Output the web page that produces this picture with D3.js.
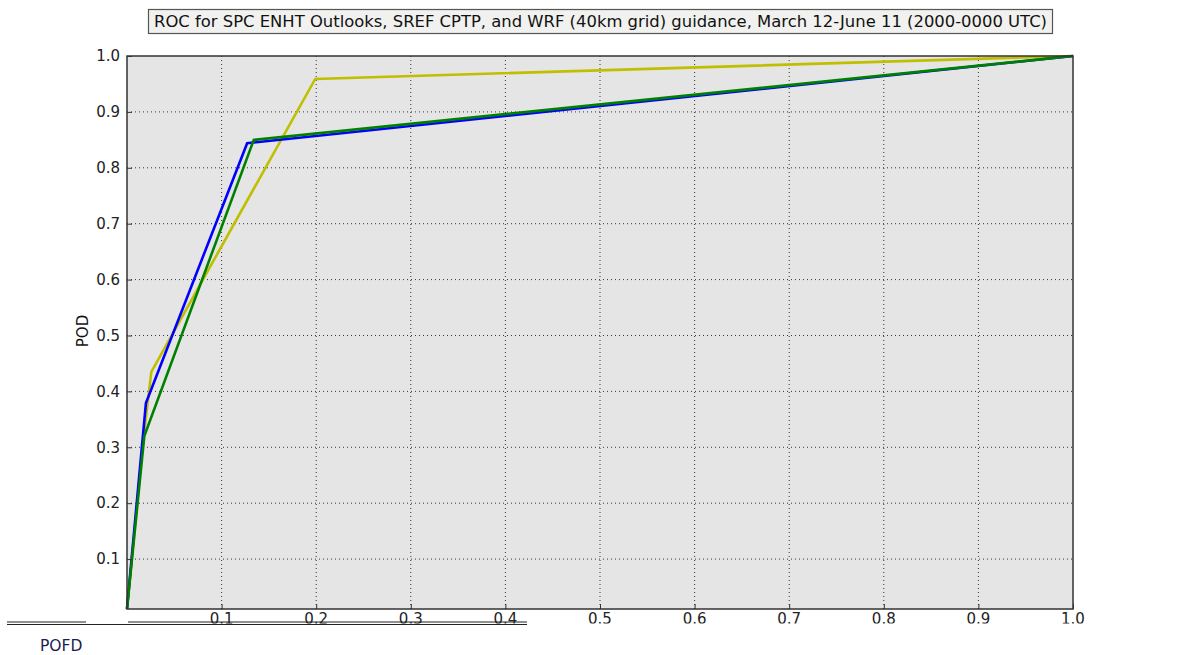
<!DOCTYPE html>
<html><head><meta charset="utf-8">
<script src="https://cdn.jsdelivr.net/npm/d3@7"></script>
<style>body{margin:0;background:#fff;} svg{display:block;font-family:"DejaVu Sans",sans-serif;}</style>
</head><body>
<script>
const titleText = "ROC for SPC ENHT Outlooks, SREF CPTP, and WRF (40km grid) guidance, March 12-June 11 (2000-0000 UTC)";
const xTicks = [0.1,0.2,0.3,0.4,0.5,0.6,0.7,0.8,0.9,1.0];
const yTicks = [0.1,0.2,0.3,0.4,0.5,0.6,0.7,0.8,0.9,1.0];
const blueX = [0, 0.020, 0.127, 1.0];
const blueY = [0.011, 0.379, 0.844, 1.0];
const greenX = [0, 0.0183, 0.134, 1.0];
const greenY = [0.011, 0.320, 0.850, 1.0];
const yellowX = [0, 0.017, 0.0257, 0.199, 1.0];
const yellowY = [0.011, 0.31, 0.435, 0.959, 1.0];
const seriesColors = ["#bfbf00", "#0000ff", "#008000"];

const W=1186,H=655;
const svg=d3.select("body").append("svg").attr("width",W).attr("height",H);
const L=127,R=1073,T=56,B=609;
const x=d3.scaleLinear().domain([0,1]).range([L,R]);
const y=d3.scaleLinear().domain([0.0107,1]).range([B,T]);

// title box
svg.append("rect").attr("x",148.5).attr("y",9.5).attr("width",904).attr("height",24)
 .attr("fill","#f1f1ef").attr("stroke","#555").attr("stroke-width",1.2);
svg.append("text").attr("x",600.5).attr("y",27).attr("text-anchor","middle")
 .attr("font-size",16.4).attr("fill","#111").attr("textLength",893).attr("lengthAdjust","spacingAndGlyphs")
 .text(titleText);

svg.append("rect").attr("x",L).attr("y",T).attr("width",R-L).attr("height",B-T).attr("fill","#e5e5e5");

// grid
const g=svg.append("g");
g.selectAll("line.gx").data(xTicks.filter(d=>d<1)).join("line")
 .attr("x1",d=>x(d)).attr("x2",d=>x(d)).attr("y1",T).attr("y2",B)
 .attr("stroke","#333").attr("stroke-width",1).attr("stroke-dasharray","1,3");
g.selectAll("line.gy").data(yTicks.filter(d=>d<1)).join("line")
 .attr("y1",d=>y(d)).attr("y2",d=>y(d)).attr("x1",L).attr("x2",R)
 .attr("stroke","#333").attr("stroke-width",1).attr("stroke-dasharray","1,3");

// lines
const line=d3.line().x(d=>x(d[0])).y(d=>y(d[1]));
const series=[d3.zip(yellowX,yellowY), d3.zip(blueX,blueY), d3.zip(greenX,greenY)];
series.forEach((s,i)=>{
 svg.append("path").datum(s).attr("d",line).attr("fill","none")
  .attr("stroke",seriesColors[i]).attr("stroke-width",2.6).attr("stroke-linejoin","miter");
});

// frame
svg.append("rect").attr("x",L).attr("y",T).attr("width",R-L).attr("height",B-T)
 .attr("fill","none").attr("stroke","#333").attr("stroke-width",1.5);

// axes
const yAxis=d3.axisLeft(y).tickValues(yTicks).tickFormat(d3.format(".1f")).tickSizeInner(-5).tickSizeOuter(0).tickPadding(7);
const ya=svg.append("g").attr("transform",`translate(${L},0)`).call(yAxis);
ya.select(".domain").remove();
ya.selectAll("text").attr("font-size",15).attr("fill","#222").attr("font-family","DejaVu Sans");
ya.selectAll("line").attr("stroke","#333");

// clip for x tick labels (lower part hidden in reference)
svg.append("clipPath").attr("id","xclip").append("rect").attr("x",0).attr("y",600).attr("width",W).attr("height",23.5);
const xAxis=d3.axisBottom(x).tickValues(xTicks).tickFormat(d3.format(".1f")).tickSizeInner(-5).tickSizeOuter(0).tickPadding(4);
const xa=svg.append("g").attr("transform",`translate(0,${B})`).call(xAxis);
xa.select(".domain").remove();
xa.selectAll("line").attr("stroke","#333");
const labelsG=svg.append("g").attr("clip-path","url(#xclip)");
xa.selectAll(".tick").each(function(d){
 const t=d3.select(this).select("text");
 labelsG.append("text").attr("x",x(d)).attr("y",624).attr("text-anchor","middle")
  .attr("font-size",15).attr("fill","#222").text(t.text());
 t.remove();
});

// rendering artifacts (horizontal lines over tick labels)
[[7,86],[128,527]].forEach(([a,b])=>{
 svg.append("line").attr("x1",a).attr("x2",b).attr("y1",622).attr("y2",622).attr("stroke","#222").attr("stroke-width",1);
});
svg.append("line").attr("x1",7).attr("x2",527).attr("y1",624.5).attr("y2",624.5).attr("stroke","#222").attr("stroke-width",1);

// labels
svg.append("text").attr("transform",`translate(88,331) rotate(-90)`).attr("text-anchor","middle")
 .attr("font-size",15).attr("fill","#111").text("POD");
svg.append("text").attr("x",40).attr("y",651).attr("font-size",15.5).attr("fill","#1c1c50").text("POFD");
</script>
</body></html>
